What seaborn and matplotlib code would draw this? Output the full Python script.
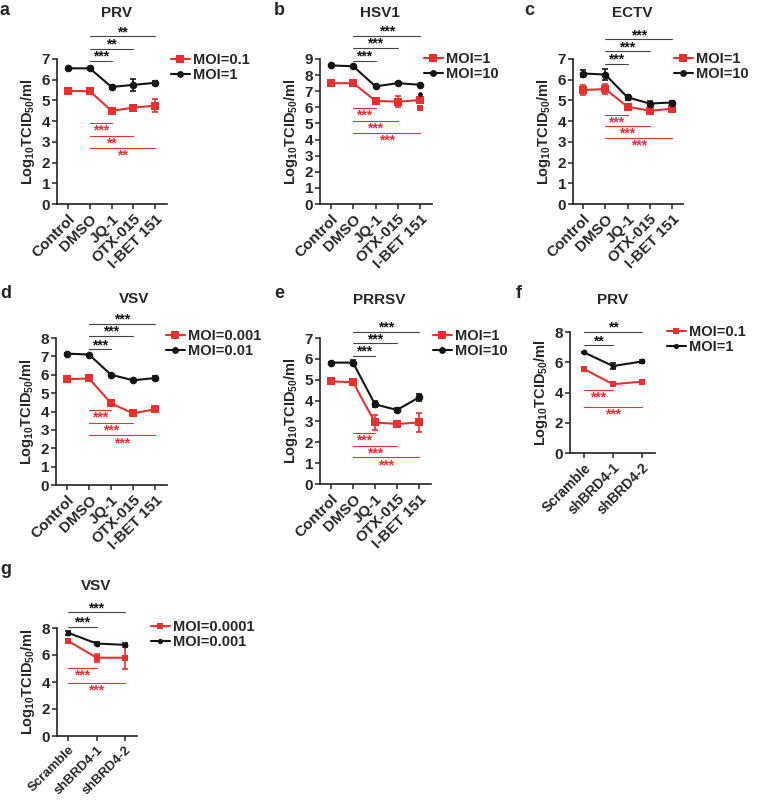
import pandas as pd
import seaborn as sns
import matplotlib.pyplot as plt
from matplotlib.lines import Line2D

RED = "#e8312f"
BLACK = "#141414"

drugs = ["Control", "DMSO", "JQ-1", "OTX-015", "I-BET 151"]
knock = ["Scramble", "shBRD4-1", "shBRD4-2"]

# a  PRV, inhibitors
a_low = [5.45, 5.45, 4.5, 4.65, 4.75]
a_low_err = [0.05, 0.05, 0.15, 0.12, 0.3]
a_high = [6.55, 6.55, 5.65, 5.75, 5.85]
a_high_err = [0.05, 0.05, 0.1, 0.3, 0.1]
a_labels = ["MOI=0.1", "MOI=1"]
a_sig_high = [(2, 6.9, "***"), (3, 7.5, "**"), (4, 8.1, "**")]
a_sig_low = [(2, 3.9, "***"), (3, 3.3, "**"), (4, 2.7, "**")]

# b  HSV1
b_low = [7.5, 7.5, 6.4, 6.35, 6.45]
b_low_err = [0.1, 0.1, 0.1, 0.35, 0.2]
b_high = [8.6, 8.55, 7.3, 7.5, 7.4]
b_high_err = [0.05, 0.05, 0.05, 0.05, 0.05]
b_extra_low = 5.98
b_extra_high = 6.85
b_labels = ["MOI=1", "MOI=10"]
b_sig_high = [(2, 8.9, "***"), (3, 9.7, "***"), (4, 10.45, "***")]
b_sig_low = [(2, 5.95, "***"), (3, 5.15, "***"), (4, 4.4, "***")]

# c  ECTV
c_low = [5.5, 5.55, 4.7, 4.5, 4.6]
c_low_err = [0.25, 0.25, 0.08, 0.08, 0.05]
c_high = [6.3, 6.25, 5.15, 4.85, 4.9]
c_high_err = [0.15, 0.25, 0.12, 0.12, 0.05]
c_labels = ["MOI=1", "MOI=10"]
c_sig_high = [(2, 6.76, "***"), (3, 7.37, "***"), (4, 7.95, "***")]
c_sig_low = [(2, 4.3, "***"), (3, 3.77, "***"), (4, 3.18, "***")]

# d  VSV
d_low = [5.75, 5.8, 4.45, 3.9, 4.12]
d_low_err = [0.05, 0.1, 0.1, 0.05, 0.08]
d_high = [7.15, 7.1, 6.0, 5.7, 5.82]
d_high_err = [0.05, 0.05, 0.05, 0.05, 0.1]
d_labels = ["MOI=0.001", "MOI=0.01"]
d_sig_high = [(2, 7.38, "***"), (3, 8.1, "***"), (4, 8.76, "***")]
d_sig_low = [(2, 4.07, "***"), (3, 3.38, "***"), (4, 2.7, "***")]

# e  PRRSV
e_low = [4.92, 4.88, 2.95, 2.88, 2.95]
e_low_err = [0.12, 0.05, 0.35, 0.1, 0.45]
e_high = [5.82, 5.82, 3.82, 3.55, 4.15]
e_high_err = [0.05, 0.12, 0.15, 0.08, 0.15]
e_labels = ["MOI=1", "MOI=10"]
e_sig_high = [(2, 6.15, "***"), (3, 6.74, "***"), (4, 7.3, "***")]
e_sig_low = [(2, 2.44, "***"), (3, 1.84, "***"), (4, 1.28, "***")]

# f  PRV, knockdown
f_low = [5.55, 4.55, 4.72]
f_low_err = [0.1, 0.1, 0.1]
f_high = [6.65, 5.75, 6.05]
f_high_err = [0.05, 0.2, 0.12]
f_labels = ["MOI=0.1", "MOI=1"]
f_sig_high = [(1, 7.12, "**"), (2, 8.0, "**")]
f_sig_low = [(1, 4.15, "***"), (2, 3.07, "***")]

# g  VSV, knockdown
g_low = [7.05, 5.8, 5.8]
g_low_err = [0.15, 0.3, 0.8]
g_high = [7.65, 6.85, 6.75]
g_high_err = [0.15, 0.08, 0.15]
g_labels = ["MOI=0.0001", "MOI=0.001"]
g_sig_high = [(1, 8.07, "***"), (2, 9.16, "***")]
g_sig_low = [(1, 5.07, "***"), (2, 3.91, "***")]

W, H = 757, 801

sns.set_theme(style="ticks")
plt.rcParams["font.family"] = ["Liberation Sans", "DejaVu Sans"]
plt.rcParams["font.weight"] = "bold"
plt.rcParams["axes.labelweight"] = "bold"
plt.rcParams["mathtext.fontset"] = "custom"
plt.rcParams["mathtext.rm"] = "Liberation Sans:bold"
plt.rcParams["mathtext.bf"] = "Liberation Sans:bold"
plt.rcParams["mathtext.default"] = "bf"

fig = plt.figure(figsize=(W / 100, H / 100), dpi=100)


def px_axes(l, t, r, b):
    return fig.add_axes([l / W, 1 - b / H, (r - l) / W, (b - t) / H])


def draw_panel(box, ticks_px, cats, low, low_err, high, high_err, labels,
               ymax, ystep, sig_high, sig_low, start, msize, leg_xy,
               letter, letter_xy, title, title_xy, xfs=11):
    l, t, r, b = box
    ax = px_axes(l, t, r, b)
    n = len(cats)
    step = (ticks_px[1] - ticks_px[0]) / (n - 1)
    df = pd.DataFrame({
        "x": list(range(n)) * 2,
        "y": list(low) + list(high),
        "MOI": [labels[0]] * n + [labels[1]] * n,
    })
    ax.errorbar(range(n), high, yerr=high_err, fmt="none", ecolor=BLACK,
                elinewidth=1.2, capsize=2.5, capthick=1.2, zorder=2)
    ax.errorbar(range(n), low, yerr=low_err, fmt="none", ecolor=RED,
                elinewidth=1.2, capsize=2.5, capthick=1.2, zorder=2)
    sns.lineplot(data=df, x="x", y="y", hue="MOI", style="MOI",
                 markers=["s", "o"], dashes=False, palette=[RED, BLACK],
                 markersize=msize, markeredgewidth=0, linewidth=1.5,
                 ax=ax, zorder=3, legend=False)
    ax.set_xlim((l - ticks_px[0]) / step, (r - ticks_px[0]) / step)
    ax.set_ylim(0, ymax)
    ax.set_yticks(range(0, ymax + 1, ystep))
    ax.set_xticks(range(n))
    ax.set_xticklabels(cats, rotation=45, ha="right", rotation_mode="anchor",
                       fontsize=xfs, fontweight="bold")
    ax.tick_params(axis="y", labelsize=11, width=1.1, length=3.5, pad=1.5)
    ax.tick_params(axis="x", width=1.1, length=3.5, pad=2)
    for lab in ax.get_yticklabels():
        lab.set_fontweight("bold")
    ax.set_xlabel("")
    ax.set_ylabel(r"Log$_{10}$TCID$_{50}$/ml", fontsize=10.5, labelpad=3)
    sns.despine(ax=ax)
    for s in ("left", "bottom"):
        ax.spines[s].set_linewidth(1.2)
        ax.spines[s].set_color("#222222")

    for end, y, txt in sig_high:
        ax.plot([start, end], [y, y], color="#444444", lw=0.8,
                clip_on=False)
        ax.annotate(txt, ((start + end) / 2, y), xytext=(0, -2),
                    textcoords="offset points", ha="center", va="bottom",
                    fontsize=10, color=BLACK, annotation_clip=False)
    for end, y, txt in sig_low:
        ax.plot([start, end], [y, y], color=RED, lw=0.8, clip_on=False)
        ax.annotate(txt, ((start + end) / 2, y), xytext=(0, -0.5),
                    textcoords="offset points", ha="center", va="top",
                    fontsize=10, color=RED, annotation_clip=False)

    handles = [
        Line2D([], [], color=RED, marker="s", markersize=msize, lw=1.5,
               markeredgewidth=0),
        Line2D([], [], color=BLACK, marker="o", markersize=msize * 0.9,
               lw=1.5, markeredgewidth=0),
    ]
    ax.legend(handles, labels, loc="upper left",
              bbox_to_anchor=(leg_xy[0] / W, 1 - leg_xy[1] / H),
              bbox_transform=fig.transFigure, frameon=False,
              handlelength=1.3, handletextpad=0.2, labelspacing=0.05,
              borderpad=0, borderaxespad=0,
              prop={"weight": "bold", "size": 10.5})

    fig.text(letter_xy[0] / W, 1 - letter_xy[1] / H, letter, fontsize=13,
             fontweight="bold", ha="left", va="baseline")
    fig.text(title_xy[0] / W, 1 - title_xy[1] / H, title, fontsize=11,
             fontweight="bold", ha="center", va="baseline")
    return ax


draw_panel((57, 59, 167, 204), (68, 155), drugs, a_low, a_low_err, a_high,
           a_high_err, a_labels, 7, 1, a_sig_high, a_sig_low, 1, 5.5,
           (171, 53), "a", (0, 15), "PRV", (117, 17))
axb = draw_panel((320, 59, 432, 204), (331, 420), drugs, b_low, b_low_err,
                 b_high, b_high_err, b_labels, 9, 1, b_sig_high, b_sig_low,
                 1, 5.5, (424, 52), "b", (274, 15), "HSV1", (380, 17))
axb.scatter([4], [b_extra_low], marker="s", s=16, color=RED, lw=0, zorder=3)
axb.scatter([4], [b_extra_high], marker="o", s=12, color=BLACK, lw=0, zorder=3)
draw_panel((573, 59, 683, 204), (583, 672), drugs, c_low, c_low_err, c_high,
           c_high_err, c_labels, 7, 1, c_sig_high, c_sig_low, 1, 5.5,
           (674, 52), "c", (524, 15), "ECTV", (632, 17))
draw_panel((56, 338, 167, 485), (67, 155), drugs, d_low, d_low_err, d_high,
           d_high_err, d_labels, 8, 1, d_sig_high, d_sig_low, 1, 5.5,
           (166, 329), "d", (0, 298), "VSV", (134, 303))
draw_panel((320, 338, 431, 484), (331, 419), drugs, e_low, e_low_err, e_high,
           e_high_err, e_labels, 7, 1, e_sig_high, e_sig_low, 1, 5.5,
           (433, 329), "e", (274, 298), "PRRSV", (379, 304))
draw_panel((570, 332, 655, 453), (584, 642), knock, f_low, f_low_err, f_high,
           f_high_err, f_labels, 8, 2, f_sig_high, f_sig_low, 0, 4.2,
           (667, 325), "f", (516, 298), "PRV", (613, 304), xfs=10)
draw_panel((57, 628, 137, 736), (68, 125), knock, g_low, g_low_err, g_high,
           g_high_err, g_labels, 8, 2, g_sig_high, g_sig_low, 0, 4.2,
           (151, 620), "g", (0, 574), "VSV", (96, 590), xfs=9.5)

fig.savefig("out.png", dpi=100)
